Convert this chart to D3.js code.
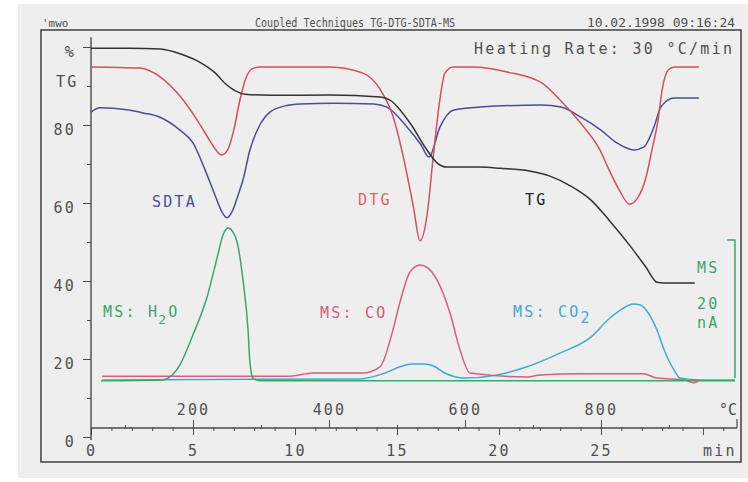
<!DOCTYPE html>
<html>
<head>
<meta charset="utf-8">
<script src="https://cdn.jsdelivr.net/npm/d3@7"></script>
<style>
  body { margin: 0; background: #ffffff; }
  text { font-family: "DejaVu Sans Mono", monospace; font-size: 15px; fill: #505050; letter-spacing: 2.2px; }
</style>
</head>
<body>
<div class="canvas"></div>
<script>
// time in min, value in units of the left axis (TG in %)
const tgCurve = [[0,99.7],[1.9,99.7],[3.4,99.5],[4.4,98.2],[5.3,96.2],[6.1,93.3],[6.6,90.5],[7.1,88.7],[7.55,87.9],[8.8,87.6],[11.7,87.7],[14.2,87.2],[14.66,86.4],[15.64,80.5],[16.47,73.6],[16.96,70.3],[17.45,69.2],[19.07,69.2],[20.05,68.9],[21.5,68.2],[22.5,66.9],[23.5,64.4],[24.5,60.8],[25.4,55.6],[26.4,49.2],[27.2,43.6],[27.75,39.7],[28.1,39.5],[29.6,39.5]];

const dtgCurve = [[0,94.9],[2.4,94.6],[3.4,92.3],[4.4,87.2],[5.3,80.5],[5.8,76.2],[6.2,73.1],[6.4,72.3],[6.7,73.6],[7.0,78.7],[7.3,86.4],[7.6,92.1],[7.9,94.4],[8.3,94.9],[10.3,94.9],[11.7,94.9],[13.33,93.3],[14.17,89.2],[14.8,82.3],[15.3,72.1],[15.8,59.2],[16.13,50.3],[16.5,57.9],[16.76,71.0],[17.1,86.4],[17.35,93.3],[17.74,94.9],[18.8,94.9],[20.4,93.6],[22.1,90.8],[23.0,86.4],[24.0,80.5],[24.95,73.6],[25.4,68.5],[25.9,63.3],[26.4,59.7],[26.8,61.3],[27.2,66.4],[27.5,73.6],[27.8,81.3],[28.0,89.0],[28.3,94.1],[28.6,94.9],[29.8,94.9]];

const sdtaCurve = [[0,83.3],[0.44,84.4],[1.76,83.9],[2.55,83.1],[3.38,82.0],[4.36,78.7],[5.0,75.4],[5.59,68.5],[6.08,62.0],[6.42,57.7],[6.67,56.2],[6.91,57.7],[7.21,62.0],[7.45,65.9],[7.79,73.6],[8.28,80.0],[8.77,83.3],[9.51,84.9],[10.25,85.4],[11.86,85.6],[13.87,85.4],[14.51,84.6],[15.49,79.5],[16.17,75.0],[16.57,71.8],[17.11,79.5],[17.75,83.8],[19.07,84.6],[22.06,85.1],[23.04,84.6],[24.02,82.0],[25.0,78.7],[25.78,75.4],[26.62,73.6],[27.11,74.4],[27.6,79.5],[27.94,84.6],[28.58,86.9],[29.8,86.9]];

const msH2oCurve = [[0.5,14.4],[3.53,14.6],[3.87,15.4],[4.36,18.5],[5.0,26.2],[5.69,35.9],[6.18,45.9],[6.47,51.8],[6.72,53.6],[6.96,52.6],[7.16,50.0],[7.45,40.3],[7.7,27.4],[7.79,19.2],[7.94,15.1],[8.28,14.4],[31.57,14.4]];

const msCoCurve = [[0.54,15.6],[9.75,15.6],[10.88,16.4],[13.33,16.4],[14.17,18.0],[14.8,27.4],[15.15,34.6],[15.64,42.3],[16.13,44.1],[16.52,43.3],[16.96,40.3],[17.6,31.8],[18.09,22.3],[18.58,16.4],[21.37,15.4],[22.01,15.9],[24.12,16.2],[27.06,16.2],[27.75,15.1],[29.12,14.6],[29.51,13.9],[29.85,14.6]];

const msCo2Curve = [[0.54,14.6],[13.19,14.9],[14.41,16.4],[15.15,18.0],[15.74,18.7],[16.37,18.7],[16.86,18.0],[17.35,16.4],[18.33,15.1],[19.9,15.9],[21.37,18.0],[22.99,21.5],[24.46,25.4],[25.44,30.5],[26.03,32.8],[26.57,34.1],[26.91,33.9],[27.25,32.3],[27.7,28.0],[28.14,21.8],[28.58,17.2],[28.87,15.1],[29.85,14.6],[31.57,14.6]];

const timeTicks = [0, 5, 10, 15, 20, 25, 30];
const tempTicks = [200, 400, 600, 800];
const tempMinorTicks = [100, 300, 500, 700, 900];
const percentTicks = [0, 20, 40, 60, 80, 100];
const percentMinorTicks = [10, 30, 50, 70, 90];
const msScale = [15.1, 50.5]; // 20 nA bar, in left-axis units

const heatingRate = 30, startTemp = 50, endTime = 31.67;

const svg = d3.select('.canvas')
  .append('svg')
  .attr('width', 748)
  .attr('height', 482);

// scanned paper
svg.append('rect')
  .attr('x', 18).attr('y', 4)
  .attr('width', 730).attr('height', 474)
  .attr('fill', '#eeeeee');

const x = d3.scaleLinear().domain([0, endTime]).range([91, 737]);
const temp = d3.scaleLinear()
  .domain([startTemp, startTemp + heatingRate * endTime])
  .range([91, 737]);
const y = d3.scaleLinear().domain([0, 100]).range([437, 47]);

// frame
svg.append('rect')
  .attr('x', 41).attr('y', 30)
  .attr('width', 700).attr('height', 432)
  .attr('fill', 'none')
  .attr('stroke', '#4a4a4a')
  .attr('stroke-width', 1.6);

// header
svg.append('text').attr('x', 42).attr('y', 27)
  .style('font-size', '11px').style('letter-spacing', '0px')
  .text("'mwo");
svg.append('text').attr('x', 255).attr('y', 27)
  .style('font-size', '13px').style('letter-spacing', '0px')
  .attr('textLength', 200).attr('lengthAdjust', 'spacingAndGlyphs')
  .text('Coupled Techniques TG-DTG-SDTA-MS');
svg.append('text').attr('x', 587).attr('y', 27)
  .style('font-size', '13px').style('letter-spacing', '0px')
  .attr('textLength', 148).attr('lengthAdjust', 'spacingAndGlyphs')
  .text('10.02.1998 09:16:24');
svg.append('text').attr('x', 474).attr('y', 54)
  .style('letter-spacing', '0px')
  .attr('textLength', 258).attr('lengthAdjust', 'spacing')
  .text('Heating Rate: 30 °C/min');

// y axis
const yAxis = svg.append('g')
  .attr('transform', 'translate(91,0)')
  .attr('color', '#4a4a4a')
  .call(d3.axisLeft(y).tickValues(percentTicks).tickSize(8).tickPadding(7)
    .tickFormat(d => d === 100 ? '%' : d));
yAxis.select('.domain').remove();
yAxis.selectAll('text').attr('dy', '0.62em');
svg.append('g')
  .attr('transform', 'translate(91,0)')
  .attr('color', '#4a4a4a')
  .call(d3.axisLeft(y).tickValues(percentMinorTicks).tickSize(4).tickFormat(''))
  .select('.domain').remove();
svg.append('line')
  .attr('x1', 91).attr('x2', 91)
  .attr('y1', y(102.5)).attr('y2', y(-0.8))
  .attr('stroke', '#4a4a4a').attr('stroke-width', 1.4);
svg.append('text').attr('x', 56).attr('y', 87).text('TG');

// x axes (time below, temperature above)
const axisY = y(2.3);
const tAxis = svg.append('g')
  .attr('transform', `translate(0,${axisY})`)
  .attr('color', '#4a4a4a')
  .call(d3.axisBottom(x).tickValues(timeTicks).tickSize(7).tickPadding(10)
    .tickFormat(d => d === 30 ? '' : d));
tAxis.select('.domain').remove();
svg.append('g')
  .attr('transform', `translate(0,${axisY})`)
  .attr('color', '#4a4a4a')
  .call(d3.axisBottom(x).tickValues(d3.range(1, 32).filter(d => d % 5)).tickSize(3).tickFormat(''))
  .select('.domain').remove();
const TAxis = svg.append('g')
  .attr('transform', `translate(0,${axisY})`)
  .attr('color', '#4a4a4a')
  .call(d3.axisTop(temp).tickValues(tempTicks).tickSize(8).tickPadding(5));
TAxis.select('.domain').remove();
svg.append('g')
  .attr('transform', `translate(0,${axisY})`)
  .attr('color', '#4a4a4a')
  .call(d3.axisTop(temp).tickValues(tempMinorTicks).tickSize(3).tickFormat(''))
  .select('.domain').remove();
svg.append('line')
  .attr('x1', x(0)).attr('x2', x(endTime))
  .attr('y1', axisY).attr('y2', axisY)
  .attr('stroke', '#4a4a4a').attr('stroke-width', 1.4);
svg.append('line')
  .attr('x1', x(endTime)).attr('x2', x(endTime))
  .attr('y1', axisY - 9).attr('y2', axisY)
  .attr('stroke', '#4a4a4a').attr('stroke-width', 1.2);
svg.append('text').attr('x', x(endTime)).attr('y', 415)
  .attr('text-anchor', 'end').style('letter-spacing', '0px').text('°C');
svg.append('text').attr('x', x(30)).attr('y', 456).text('min');

// curves
const line = d3.line()
  .x(d => x(d[0]))
  .y(d => y(d[1]))
  .curve(d3.curveMonotoneX);

const series = [
  { data: msCo2Curve, color: '#3fa9d6' },
  { data: msCoCurve, color: '#d65f7c' },
  { data: msH2oCurve, color: '#3ba56c' },
  { data: sdtaCurve, color: '#4a4d98' },
  { data: dtgCurve, color: '#d2505c' },
  { data: tgCurve, color: '#333333' }
];

svg.selectAll('.curve')
  .data(series)
  .join('path')
  .attr('class', 'curve')
  .attr('d', d => line(d.data))
  .attr('fill', 'none')
  .attr('stroke', d => d.color)
  .attr('stroke-width', 1.5)
  .attr('stroke-linejoin', 'round');

// MS scale bar
const barX = x(31.57);
svg.append('path')
  .attr('d', `M${barX - 8},${y(msScale[1])}H${barX}V${y(msScale[0])}`)
  .attr('fill', 'none')
  .attr('stroke', '#3ba56c')
  .attr('stroke-width', 1.5);

// labels
const label = (tx, ty, txt, color) =>
  svg.append('text').attr('x', tx).attr('y', ty).style('fill', color).text(txt);

label(152, 207, 'SDTA', '#4a4d98');
label(358, 205, 'DTG', '#dc6468');
label(525, 205, 'TG', '#222222');
label(320, 318, 'MS: CO', '#d65f7c');
label(697, 273, 'MS', '#3ba56c');
label(697, 309, '20', '#3ba56c');
label(697, 328, 'nA', '#3ba56c');

const h2o = label(103, 317, 'MS: H', '#3ba56c');
h2o.append('tspan').attr('dx', -1).attr('dy', 7).style('font-size', '13px').text('2');
h2o.append('tspan').attr('dy', -7).text('O');

const co2 = label(513, 317, 'MS: CO', '#3fa9d6');
co2.append('tspan').attr('dy', 6).text('2');
</script>
</body>
</html>
